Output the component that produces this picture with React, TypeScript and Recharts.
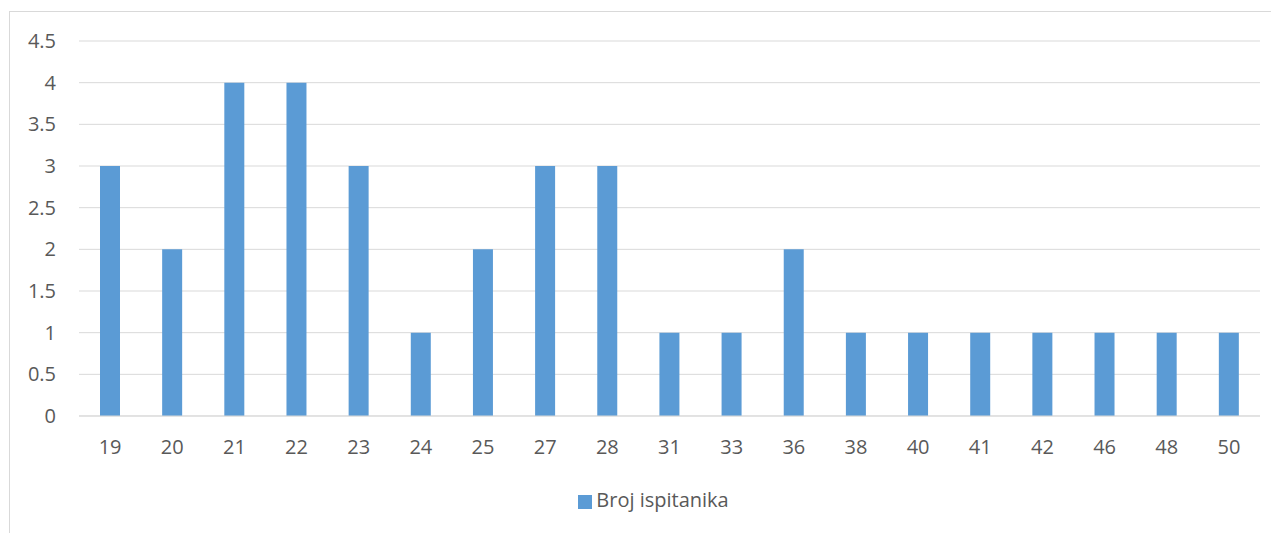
import { BarChart, Bar, XAxis, YAxis, CartesianGrid, Legend } from 'recharts'

const ages = ['19', '20', '21', '22', '23', '24', '25', '27', '28', '31', '33', '36', '38', '40', '41', '42', '46', '48', '50']
const counts = [3, 2, 4, 4, 3, 1, 2, 3, 3, 1, 1, 2, 1, 1, 1, 1, 1, 1, 1]
const yTicks = [0, 0.5, 1, 1.5, 2, 2.5, 3, 3.5, 4, 4.5]

const data = ages.map((age, i) => ({ age, value: counts[i] }))

const font = '"Open Sans", Lato, sans-serif'
const textColor = '#595959'
const gridColor = '#d9d9d9'

export default function App() {
  return (
    <div style={{ position: 'relative', width: 1271, height: 525, overflow: 'hidden', fontFamily: font }}>
      <div
        style={{
          position: 'absolute',
          left: 1,
          top: 3,
          width: 1400,
          height: 700,
          border: `1px solid ${gridColor}`,
        }}
      />
      <div style={{ position: 'absolute', left: 0, top: 0 }}>
        <BarChart width={1271} height={525} data={data} margin={{ top: 33, right: 19, bottom: 62, left: 0 }}>
          <CartesianGrid vertical={false} stroke={gridColor} strokeDasharray="" />
          <XAxis
            dataKey="age"
            height={30}
            tickLine={false}
            tickSize={0}
            tickMargin={24}
            axisLine={{ stroke: gridColor }}
            tick={{ fill: textColor, fontSize: 20, fontFamily: font }}
            interval={0}
          />
          <YAxis
            width={71}
            domain={[0, 4.5]}
            ticks={yTicks}
            axisLine={false}
            tickLine={false}
            tickSize={0}
            tickMargin={23}
            tick={{ fill: textColor, fontSize: 20, fontFamily: font }}
          />
          <Legend
            iconType="square"
            iconSize={14}
            verticalAlign="bottom"
            wrapperStyle={{ left: 15, width: 1271, top: 479, bottom: 'auto', fontSize: 20, lineHeight: '25px', fontFamily: font }}
            formatter={(v) => <span style={{ color: textColor }}>{v}</span>}
          />
          <Bar dataKey="value" name="Broj ispitanika" fill="#5b9bd5" barSize={20} isAnimationActive={false} />
        </BarChart>
      </div>
    </div>
  )
}
